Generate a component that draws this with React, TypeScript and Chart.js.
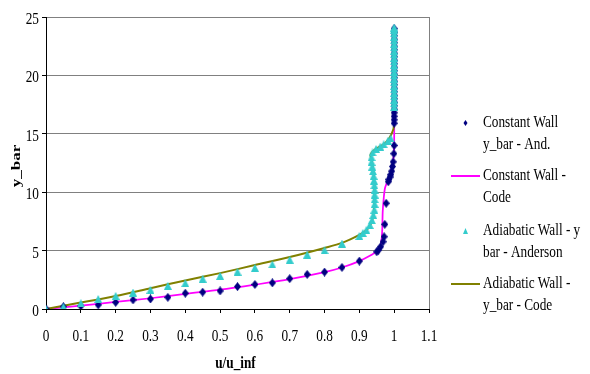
import React, { useEffect, useRef } from "react";
import { Chart, registerables } from "chart.js";

Chart.register(...registerables);

// ---- Data ----
const cwAndX = [0, 0.05, 0.1, 0.15, 0.2, 0.25, 0.3, 0.35, 0.4, 0.45, 0.5, 0.55, 0.6, 0.65, 0.7, 0.75, 0.8, 0.85, 0.9, 0.95, 0.955, 0.961, 0.968, 0.971, 0.973, 0.977, 0.983, 0.985, 0.988, 0.99, 0.993, 0.995, 0.997, 0.999, 1, 1, 1, 1, 1, 1, 1, 1, 1, 1, 1, 1, 1, 1, 1, 1, 1, 1, 1, 1, 1, 1, 1, 1, 1, 1, 1, 1, 1];
const cwAndY = [0, 0.2, 0.25, 0.35, 0.57, 0.78, 0.86, 1.0, 1.35, 1.44, 1.55, 1.92, 2.1, 2.24, 2.6, 2.96, 3.16, 3.56, 4.1, 4.9, 5.05, 5.33, 5.76, 6.19, 7.25, 9.05, 10.9, 11.1, 11.3, 11.5, 11.8, 12.2, 12.6, 13.3, 14.0, 15.9, 16.2, 16.5, 16.8, 17.1, 17.4, 17.7, 18.0, 18.3, 18.6, 18.9, 19.2, 19.5, 19.8, 20.1, 20.4, 20.7, 21.0, 21.3, 21.6, 21.9, 22.2, 22.5, 22.8, 23.1, 23.4, 23.7, 24.0];

const cwCodeX = [0, 0.1, 0.2, 0.3, 0.4, 0.5, 0.6, 0.7, 0.8, 0.85, 0.9, 0.93, 0.95, 0.96, 0.964, 0.966, 0.967, 0.97, 0.974, 0.982, 0.99, 0.996, 0.999, 1, 1, 1];
const cwCodeY = [0, 0.28, 0.6, 0.92, 1.3, 1.65, 2.08, 2.55, 3.15, 3.55, 4.1, 4.55, 4.95, 5.4, 6.0, 7.0, 8.3, 9.5, 10.4, 11.0, 11.7, 12.5, 13.3, 14.5, 16.0, 24.0];

const adAndX = [0, 0.05, 0.1, 0.15, 0.2, 0.25, 0.3, 0.35, 0.4, 0.45, 0.5, 0.55, 0.6, 0.65, 0.7, 0.75, 0.8, 0.85, 0.9, 0.91, 0.92, 0.93, 0.936, 0.94, 0.943, 0.944, 0.944, 0.944, 0.944, 0.943, 0.942, 0.941, 0.939, 0.937, 0.935, 0.935, 0.938, 0.948, 0.96, 0.97, 0.982, 0.99, 1, 1, 1, 1, 1, 1, 1, 1, 1, 1, 1, 1, 1, 1, 1, 1, 1, 1, 1, 1, 1, 1, 1, 1];
const adAndY = [0, 0.2, 0.49, 0.86, 1.12, 1.41, 1.64, 1.98, 2.21, 2.59, 2.84, 3.19, 3.53, 3.82, 4.22, 4.66, 5.03, 5.6, 6.25, 6.5, 6.76, 7.19, 7.6, 8.05, 8.5, 9.0, 9.4, 9.8, 10.2, 10.6, 11.0, 11.4, 11.8, 12.2, 12.6, 13.0, 13.4, 13.7, 13.9, 14.1, 14.4, 14.6, 17.3, 17.6, 17.9, 18.2, 18.5, 18.8, 19.1, 19.4, 19.7, 20.0, 20.3, 20.6, 20.9, 21.2, 21.5, 21.8, 22.1, 22.4, 22.7, 23.0, 23.3, 23.6, 23.9, 24.1];

const adCodeX = [0, 0.1, 0.2, 0.3, 0.4, 0.5, 0.6, 0.7, 0.8, 0.85, 0.9, 0.92, 0.93, 0.937, 0.941, 0.943, 0.943, 0.941, 0.937, 0.932, 0.942, 0.958, 0.976, 0.992, 1, 1];
const adCodeY = [0, 0.55, 1.12, 1.78, 2.44, 3.07, 3.76, 4.45, 5.23, 5.66, 6.35, 6.75, 7.1, 7.6, 8.2, 9.0, 10.5, 11.5, 12.5, 13.2, 13.6, 13.9, 14.25, 14.95, 15.8, 24.0];

const X_MIN = 0, X_MAX = 1.1, X_STEP = 0.1;
const Y_MIN = 0, Y_MAX = 25, Y_STEP = 5;
const X_TITLE = "u/u_inf";
const Y_TITLE = "y_bar";
const LEGEND = [
  { lines: ["Constant Wall", "y_bar - And."], kind: "diamond", color: "#000080" },
  { lines: ["Constant Wall -", "Code"], kind: "line", color: "#FF00FF" },
  { lines: ["Adiabatic Wall - y", "bar - Anderson"], kind: "triangle", color: "#33CCCC" },
  { lines: ["Adiabatic Wall -", "y_bar - Code"], kind: "line", color: "#808000" },
];

const SX = 0.78;
const FONT = '"Liberation Serif", "Times New Roman", serif';

const pts = (xs: number[], ys: number[]) => xs.map((x, i) => ({ x, y: ys[i] }));

function txt(ctx: CanvasRenderingContext2D, s: string, x: number, y: number, align: CanvasTextAlign, bold = false, size = 17) {
  ctx.save();
  ctx.translate(x, y);
  ctx.scale(SX, 1);
  ctx.font = `${bold ? "bold " : ""}${size}px ${FONT}`;
  ctx.textAlign = align;
  ctx.textBaseline = "alphabetic";
  ctx.fillStyle = "#000";
  ctx.fillText(s, 0, 0);
  ctx.restore();
}

function makeDiamond(color: string, w: number, h: number) {
  const c = document.createElement("canvas");
  c.width = w; c.height = h;
  const g = c.getContext("2d")!;
  g.fillStyle = color;
  g.beginPath();
  g.moveTo(w / 2, 0);
  g.lineTo(w, h / 2);
  g.lineTo(w / 2, h);
  g.lineTo(0, h / 2);
  g.closePath();
  g.fill();
  return c;
}

function makeTriangle(color: string, w: number, h: number) {
  const c = document.createElement("canvas");
  c.width = w; c.height = h;
  const g = c.getContext("2d")!;
  g.fillStyle = color;
  g.beginPath();
  g.moveTo(w / 2, 0);
  g.lineTo(w, h);
  g.lineTo(0, h);
  g.closePath();
  g.fill();
  return c;
}

const textPlugin = {
  id: "textPlugin",
  afterDraw(chart: any) {
    const ctx: CanvasRenderingContext2D = chart.ctx;
    const xs = chart.scales.x;
    const ys = chart.scales.y;
    const area = chart.chartArea;
    // tick labels
    xs.ticks.forEach((t: any) => {
      const px = xs.getPixelForValue(t.value);
      txt(ctx, String(Math.round(t.value * 10) / 10), px, area.bottom + 32, "center");
    });
    ys.ticks.forEach((t: any) => {
      const py = ys.getPixelForValue(t.value);
      txt(ctx, String(Math.round(t.value)), 39, py + 7, "right");
    });
    // axis titles
    txt(ctx, X_TITLE, (area.left + area.right) / 2 - 2, 368, "center", true);
    ctx.save();
    ctx.translate(16.5, (area.top + area.bottom) / 2 + 3);
    ctx.rotate(-Math.PI / 2);
    ctx.scale(1, SX);
    ctx.font = `bold 17px ${FONT}`;
    ctx.textAlign = "center";
    ctx.textBaseline = "middle";
    ctx.fillStyle = "#000";
    ctx.fillText(Y_TITLE, 0, 0);
    ctx.restore();
    // legend
    const baselines = [127, 180, 235, 288];
    LEGEND.forEach((e, i) => {
      const b = baselines[i];
      const my = b - 4;
      ctx.save();
      ctx.fillStyle = e.color;
      ctx.strokeStyle = e.color;
      if (e.kind === "line") {
        ctx.lineWidth = 2;
        ctx.beginPath();
        ctx.moveTo(451, my);
        ctx.lineTo(480, my);
        ctx.stroke();
      } else if (e.kind === "diamond") {
        ctx.beginPath();
        ctx.moveTo(465.5, my - 3);
        ctx.lineTo(467.5, my);
        ctx.lineTo(465.5, my + 3);
        ctx.lineTo(463.5, my);
        ctx.closePath();
        ctx.fill();
      } else {
        ctx.beginPath();
        ctx.moveTo(465.5, my - 3);
        ctx.lineTo(468, my + 3);
        ctx.lineTo(463, my + 3);
        ctx.closePath();
        ctx.fill();
      }
      ctx.restore();
      txt(ctx, e.lines[0], 483, b, "left");
      txt(ctx, e.lines[1], 483, b + 22, "left");
    });
  },
};

export default function App() {
  const ref = useRef<HTMLCanvasElement | null>(null);
  useEffect(() => {
    if (!ref.current) return;
    const diamond = makeDiamond("#000080", 7, 9);
    const triangle = makeTriangle("#33CCCC", 8, 8);
    const chart = new Chart(ref.current, {
      type: "scatter",
      data: {
        datasets: [
          {
            label: "Constant Wall y_bar - And.",
            data: pts(cwAndX, cwAndY),
            showLine: false,
            pointStyle: diamond as any,
            pointRadius: 4,
            backgroundColor: "#000080",
            borderColor: "#000080",
            order: 2,
          },
          {
            label: "Constant Wall - Code",
            data: pts(cwCodeX, cwCodeY),
            showLine: true,
            pointRadius: 0,
            borderColor: "#FF00FF",
            borderWidth: 1.75,
            tension: 0.3,
            order: 4,
          },
          {
            label: "Adiabatic Wall - y bar - Anderson",
            data: pts(adAndX, adAndY),
            showLine: false,
            pointStyle: triangle as any,
            pointRadius: 4,
            backgroundColor: "#33CCCC",
            borderColor: "#33CCCC",
            order: 1,
          },
          {
            label: "Adiabatic Wall - y_bar - Code",
            data: pts(adCodeX, adCodeY),
            showLine: true,
            pointRadius: 0,
            borderColor: "#808000",
            borderWidth: 2,
            tension: 0.3,
            order: 3,
          },
        ],
      },
      options: {
        animation: false,
        responsive: false,
        layout: { padding: { top: 17, right: 161, left: 0, bottom: 0 } },
        plugins: { legend: { display: false }, tooltip: { enabled: false } },
        scales: {
          x: {
            type: "linear",
            min: X_MIN,
            max: X_MAX,
            ticks: { stepSize: X_STEP, color: "rgba(0,0,0,0)", font: { size: 12 } },
            grid: {
              color: (c: any) => (c.tick && Math.abs(c.tick.value - X_MAX) < 1e-6 ? "#808080" : "rgba(0,0,0,0)"),
              tickColor: "#000",
              tickLength: 4,
              lineWidth: 1,
            },
            border: { color: "#000", width: 1 },
            afterFit: (s: any) => { s.height = 65; },
          },
          y: {
            type: "linear",
            min: Y_MIN,
            max: Y_MAX,
            ticks: { stepSize: Y_STEP, color: "rgba(0,0,0,0)", font: { size: 12 } },
            grid: { color: "#808080", tickColor: "#000", tickLength: 4, lineWidth: 1 },
            border: { color: "#000", width: 1 },
            afterFit: (s: any) => { s.width = 46; },
          },
        },
      },
      plugins: [textPlugin],
    });
    return () => chart.destroy();
  }, []);
  return (
    <div style={{ position: "fixed", left: 0, top: 0, width: 590, height: 374, background: "#fff" }}>
      <canvas ref={ref} width={590} height={374} style={{ display: "block" }} />
    </div>
  );
}
